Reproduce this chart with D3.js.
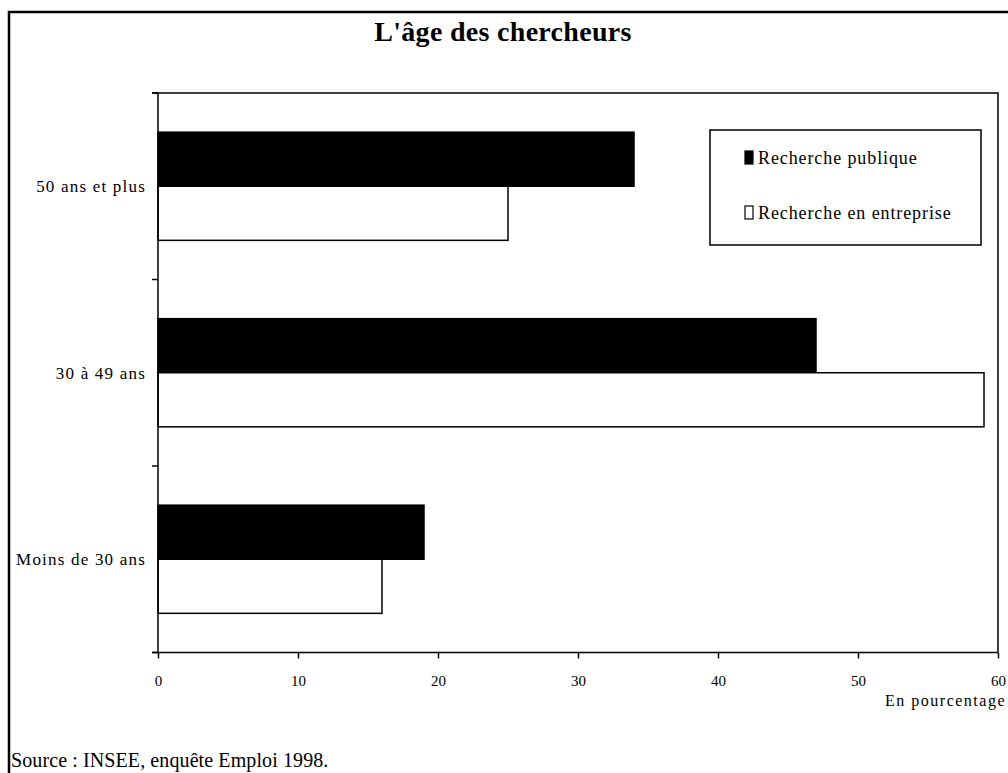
<!DOCTYPE html>
<html lang="fr">
<head>
<meta charset="UTF-8">
<title>L'âge des chercheurs</title>
<script src="https://d3js.org/d3.v7.min.js"></script>
<style>
    body { margin: 0; background: #fff; font-family: "Liberation Serif", "Times New Roman", serif; }
    svg { display: block; }
    .axis text { font-family: "Liberation Serif", serif; fill: #000; }
    .axis path, .axis line { stroke: #000; stroke-width: 1.5; }
</style>
</head>
<body>
<svg id="chart" width="1008" height="773"></svg>
<script>
// Données
const categories = ["50 ans et plus", "30 à 49 ans", "Moins de 30 ans"];
const seriesNames = ["Recherche publique", "Recherche en entreprise"];
const publique = [34, 47, 19];
const entreprise = [25, 59, 16];
const xTicks = [0, 10, 20, 30, 40, 50, 60];

const width = 1008, height = 773;
const margin = { top: 93, right: 10, bottom: 120, left: 158 };
const plotW = 998 - margin.left, plotH = 652.5 - margin.top;

const svg = d3.select("#chart");

// cadre extérieur
svg.append("path")
    .attr("d", `M9,${height + 5} L9,12 L${width + 5},12`)
    .attr("fill", "none").attr("stroke", "#000").attr("stroke-width", 2.5);

// titre
svg.append("text")
    .attr("x", 503).attr("y", 41)
    .attr("text-anchor", "middle")
    .style("font-size", "28px").style("font-weight", "bold")
    .style("letter-spacing", "0.3px")
    .text("L'âge des chercheurs");

const g = svg.append("g").attr("transform", `translate(${margin.left},${margin.top})`);

const x = d3.scaleLinear().domain([0, 60]).range([0, plotW]);
const y = d3.scaleBand().domain(categories).range([0, plotH]).paddingInner(0.42).paddingOuter(0.21);
const ySub = d3.scaleBand().domain(seriesNames).range([0, y.bandwidth()]);

const data = categories.map((c, i) => ({ cat: c, values: [
    { serie: seriesNames[0], v: publique[i] },
    { serie: seriesNames[1], v: entreprise[i] }
]}));

// cadre de la zone de tracé (haut et droite)
g.append("path")
    .attr("d", `M-6,0 H${plotW} V${plotH}`)
    .attr("fill", "none").attr("stroke", "#000").attr("stroke-width", 1.5);

// barres
const groups = g.selectAll(".grp").data(data).enter().append("g")
    .attr("transform", d => `translate(0,${y(d.cat)})`);

groups.selectAll("rect").data(d => d.values).enter().append("rect")
    .attr("x", 0)
    .attr("y", d => ySub(d.serie))
    .attr("width", d => x(d.v))
    .attr("height", ySub.bandwidth())
    .attr("fill", d => d.serie === seriesNames[0] ? "#000" : "#fff")
    .attr("stroke", "#000").attr("stroke-width", 1.5);

// axe Y avec graduations entre catégories
const yTickPos = d3.range(categories.length + 1).map(i => i * plotH / categories.length);
const yAxis = g.append("g").attr("class", "axis");
yAxis.append("line").attr("x1", 0).attr("x2", 0).attr("y1", 0).attr("y2", plotH);
yAxis.selectAll(".tk").data(yTickPos).enter().append("line")
    .attr("x1", -6).attr("x2", 0).attr("y1", d => d).attr("y2", d => d);
yAxis.selectAll(".lbl").data(categories).enter().append("text")
    .attr("x", -12)
    .attr("y", d => y(d) + y.bandwidth() / 2)
    .attr("dy", "0.35em")
    .attr("text-anchor", "end")
    .style("font-size", "17px").style("letter-spacing", "1.2px")
    .text(d => d);

// axe X
const xAxis = g.append("g").attr("class", "axis")
    .attr("transform", `translate(0,${plotH})`)
    .call(d3.axisBottom(x).tickValues(xTicks).tickSize(6).tickPadding(17).tickSizeOuter(0));
xAxis.select(".domain").attr("d", `M-6,0H${plotW}`);
xAxis.selectAll("text").style("font-size", "15px");

g.append("text")
    .attr("x", plotW + 8).attr("y", plotH + 53)
    .attr("text-anchor", "end")
    .style("font-size", "16px").style("letter-spacing", "1.5px")
    .text("En pourcentage");

// légende
const leg = svg.append("g").attr("transform", "translate(710,130)");
leg.append("rect").attr("width", 271).attr("height", 115)
    .attr("fill", "#fff").attr("stroke", "#000").attr("stroke-width", 1.5);
seriesNames.forEach((s, i) => {
    const yy = 21 + i * 55;
    leg.append("rect").attr("x", 35).attr("y", yy).attr("width", 8).attr("height", 13)
        .attr("fill", i === 0 ? "#000" : "#fff").attr("stroke", "#000").attr("stroke-width", 1.2);
    leg.append("text").attr("x", 48).attr("y", yy + 13)
        .style("font-size", "18px").style("letter-spacing", "0.9px").text(s);
});

// source
svg.append("text")
    .attr("x", 11).attr("y", 767)
    .style("font-size", "20px").style("letter-spacing", "0.1px")
    .text("Source : INSEE, enquête Emploi 1998.");
</script>
</body>
</html>
